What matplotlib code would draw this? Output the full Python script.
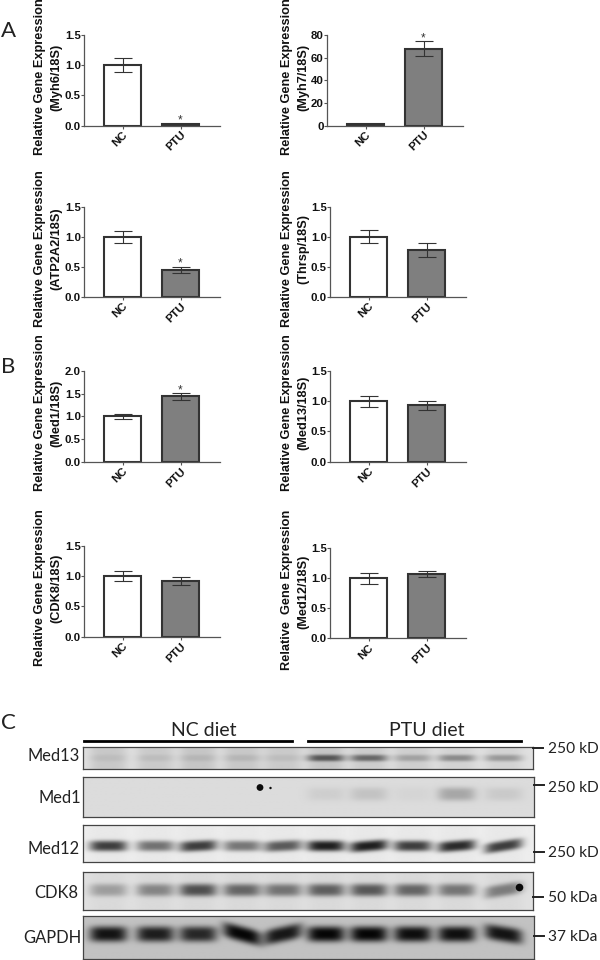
import matplotlib
matplotlib.use('Agg')
import matplotlib.pyplot as plt
import numpy as np

plt.rcParams['font.family'] = ['Liberation Sans', 'DejaVu Sans']

W, H = 600, 960

# ==========================================
# BAR DATA
# ==========================================
groups = ['NC', 'PTU']
genes = ['Myh6', 'Myh7', 'ATP2A2', 'Thrsp', 'Med1', 'Med13', 'CDK8', 'Med12']
means = [[1.0, 0.02], [1.0, 68], [1.0, 0.45], [1.0, 0.78],
         [1.0, 1.44], [1.0, 0.93], [1.0, 0.92], [1.0, 1.08]]
errs = [[0.12, 0.01], [0.5, 6.5], [0.1, 0.05], [0.11, 0.11],
        [0.05, 0.07], [0.09, 0.08], [0.08, 0.06], [0.09, 0.05]]
yticks = [[0, 0.5, 1.0, 1.5], [0, 20, 40, 60, 80], [0, 0.5, 1.0, 1.5], [0, 0.5, 1.0, 1.5],
          [0, 0.5, 1.0, 1.5, 2.0], [0, 0.5, 1.0, 1.5], [0, 0.5, 1.0, 1.5], [0, 0.5, 1.0, 1.5]]
stars = [[False, True], [False, True], [False, True], [False, False],
         [False, True], [False, False], [False, False], [False, False]]

# ==========================================
# WESTERN BLOT DATA (band strength per lane, 0-1)
# ==========================================
blot_names = ['Med13', 'Med1', 'Med12', 'CDK8', 'GAPDH']
blot_marker = ['250 kD', '250 kD', '250 kD', '50 kDa', '37 kDa']
med13_bands = [0.05, 0.06, 0.07, 0.08, 0.06, 0.50, 0.45, 0.20, 0.32, 0.26]
med13_smear = [0.11, 0.10, 0.12, 0.11, 0.10, 0.12, 0.09, 0.08, 0.06, 0.06]
med1_bands = [0.0, 0.0, 0.0, 0.0, 0.0, 0.06, 0.11, 0.03, 0.24, 0.08]
med1_smear = [0.0] * 10
med12_bands = [0.72, 0.50, 0.72, 0.48, 0.60, 0.85, 0.85, 0.72, 0.80, 0.72]
med12_smear = [0.02] * 10
cdk8_bands = [0.27, 0.38, 0.62, 0.52, 0.46, 0.55, 0.58, 0.52, 0.45, 0.42]
cdk8_smear = [0.03] * 10
gapdh_bands = [0.90, 0.85, 0.80, 0.97, 0.88, 0.97, 0.97, 0.93, 0.92, 0.90]
gapdh_smear = [0.0] * 10

# ==========================================
# LAYOUT (pixel positions in the 600x960 picture)
# ==========================================
bar_rects = [(84, 35, 125.5), (327, 35, 125.5), (84, 206.7, 296.7), (330, 206.7, 296.7),
             (84, 371, 461.7), (330, 371, 461.7), (84, 546, 636.7), (330, 548.3, 638.3)]
label_bottom = [155, 155, 327, 327, 491, 491, 666, 670]
blot_rects = [(83, 747, 533, 769), (83, 777, 534, 817), (83, 825, 534, 862),
              (83, 872, 533, 910), (83, 916, 534, 959)]
band_y = [758, 794, 846, 890, 934]
band_height = [3.5, 7, 5.5, 6.5, 8]
blot_bg = [0.88, 0.86, 0.93, 0.88, 0.76]
lanes = [108, 155, 198, 242, 283, 326, 369, 413, 457, 504]
# band slope per lane, pixels of drop across half a lane
tilts = [[0] * 10,
         [0] * 10,
         [0, 0, -1, 0, -1, 0, -1.5, 0, -1.5, -3],
         [0, 0, 0, 0, 0, 0, 0, 0, 0, -3],
         [0, 0, 0, 5, -4, 0, 0, 0, 0, 3]]
name_xy = [(80, 756), (81, 798), (80, 849), (78, 893), (81, 938)]
marker_tick_y = [748, 785, 852, 897, 936]
marker_text_y = [749, 788, 853, 898, 937]

DARK = '#333333'
GREY = '#7f7f7f'


def px_axes(left, top, right, bottom):
    return fig.add_axes([left / W, 1 - bottom / H, (right - left) / W, (bottom - top) / H])


fig = plt.figure(figsize=(W / 100, H / 100), dpi=100, facecolor='white')

# overlay in pixel coordinates for labels and lines
over = fig.add_axes([0, 0, 1, 1], zorder=5)
over.set_xlim(0, W)
over.set_ylim(H, 0)
over.axis('off')

# ------------------------------------------
# Bar panels
# ------------------------------------------
for i, gene in enumerate(genes):
    left, top, bottom = bar_rects[i]
    ax = px_axes(left, top, left + 136, bottom)
    ax.patch.set_alpha(0)
    ax.bar([0, 1], means[i], width=0.64, color=['white', GREY], edgecolor=DARK, linewidth=1.5)
    ax.errorbar([0, 1], means[i], yerr=errs[i], fmt='none', ecolor=DARK,
                elinewidth=0.8, capsize=6.8, capthick=0.8)
    ax.set_xlim(-0.664, 1.68)
    ax.set_ylim(0, max(yticks[i]))
    ax.set_yticks(yticks[i])
    if max(yticks[i]) == 80:
        ax.set_yticklabels([str(t) for t in yticks[i]])
    else:
        ax.set_yticklabels([f'{t:.1f}' for t in yticks[i]])
    ax.set_xticks([0, 1])
    ax.set_xticklabels(groups, rotation=45, ha='right', rotation_mode='anchor')
    for s in ['top', 'right']:
        ax.spines[s].set_visible(False)
    for s in ['left', 'bottom']:
        ax.spines[s].set_color('#555555')
        ax.spines[s].set_linewidth(0.9)
    ax.tick_params(axis='both', length=2, width=0.8, color='#555555', labelcolor='#111111')
    ax.tick_params(axis='y', pad=0.3)
    ax.tick_params(axis='x', pad=1)
    for t in ax.get_xticklabels() + ax.get_yticklabels():
        t.set_fontsize(8.2)
        t.set_fontweight('bold')
    for j in range(2):
        if stars[i][j]:
            ax.annotate('*', xy=(j, means[i][j] + errs[i][j]), xytext=(0, -2),
                        textcoords='offset points', ha='center', va='bottom',
                        fontsize=8.5, color='#333333', annotation_clip=False)

    text = 'Relative  Gene Expression' if gene == 'Med12' else 'Relative Gene Expression'
    x1 = 40 if left == 84 else 287
    over.text(x1, label_bottom[i], text, rotation=90, ha='center', va='bottom',
              fontsize=9.2, fontweight='bold', color='#111111')
    over.text(x1 + 16, label_bottom[i] - 78, f'({gene}/18S)', rotation=90, ha='center', va='center',
              fontsize=9.2, fontweight='bold', color='#111111')

# ------------------------------------------
# Western blot panels
# ------------------------------------------
bands = [med13_bands, med1_bands, med12_bands, cdk8_bands, gapdh_bands]
smears = [med13_smear, med1_smear, med12_smear, cdk8_smear, gapdh_smear]

for i, name in enumerate(blot_names):
    l, t, r, b = blot_rects[i]
    ax = px_axes(l, t, r, b)
    xx, yy = np.meshgrid(np.arange(l, r + 1), np.arange(t, b + 1))
    dark = np.zeros(xx.shape)
    for k, lane in enumerate(lanes):
        across = np.exp(-(np.abs(xx - lane) / 19.0) ** 4)
        centre = band_y[i] + tilts[i][k] * (xx - lane) / 19.0
        along = np.exp(-(np.abs(yy - centre) / band_height[i]) ** 3)
        dark += bands[i][k] * across * along + smears[i][k] * across
    img = blot_bg[i] * (1 - np.clip(dark, 0, 1))
    ax.imshow(img, cmap='gray', vmin=0, vmax=1, aspect='auto', extent=(l, r, b, t), interpolation='bilinear')
    ax.set_xticks([])
    ax.set_yticks([])
    for s in ax.spines.values():
        s.set_color('#444444')
        s.set_linewidth(0.9)
    over.text(name_xy[i][0], name_xy[i][1], name, ha='right', va='center',
              fontsize=11.9, family='Lato', color='#222222')
    over.plot([r, r + 10], [marker_tick_y[i]] * 2, color='#222222', lw=1.4)
    over.text(548, marker_text_y[i], blot_marker[i], ha='left', va='center',
              fontsize=11.2, family='Lato', color='#222222')

# spots on the film
over.scatter([260, 270.5], [787.5, 788], s=[24, 3], color='#0a0a0a', linewidths=0)
over.scatter([518.5], [886.5], s=[30], color='#0a0a0a', linewidths=0)

over.plot([84, 292], [741, 741], color='black', lw=2)
over.plot([308, 521], [741, 741], color='black', lw=2)
over.text(204, 730, 'NC diet', ha='center', va='center', fontsize=14, family='Lato', color='#222222')
over.text(427, 730, 'PTU diet', ha='center', va='center', fontsize=14, family='Lato', color='#222222')

# panel letters
over.text(1, 31, 'A', ha='left', va='center', fontsize=16, family='Lato', color='#222222')
over.text(1, 367, 'B', ha='left', va='center', fontsize=16, family='Lato', color='#222222')
over.text(1, 723, 'C', ha='left', va='center', fontsize=16, family='Lato', color='#222222')

plt.savefig('out.png', dpi=100)
